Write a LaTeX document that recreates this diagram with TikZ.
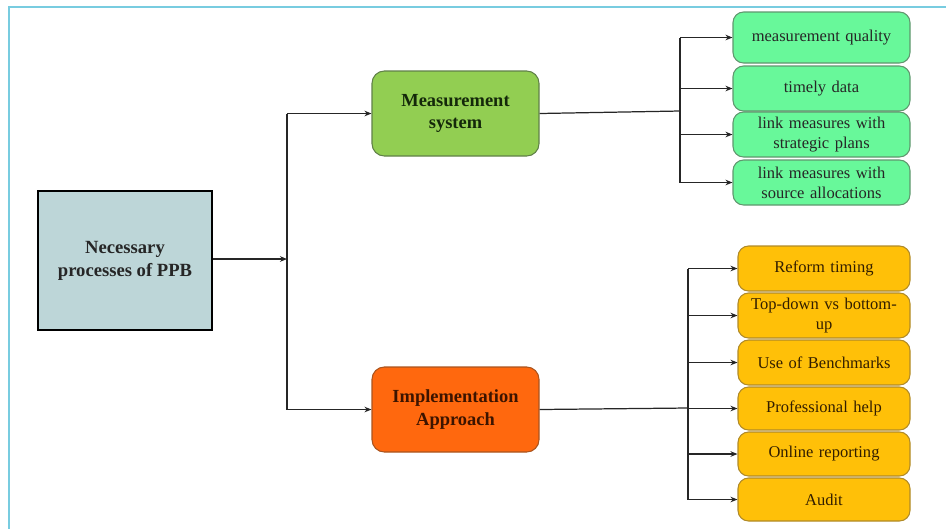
\documentclass[tikz,border=0pt]{standalone}
\usepackage{fontspec}
\setmainfont{Liberation Serif}
\usetikzlibrary{positioning,arrows.meta}

\newdimen\px \px=0.02cm

\definecolor{mainfill}{RGB}{189,214,216}
\definecolor{measfill}{RGB}{146,206,82}
\definecolor{measdraw}{RGB}{96,128,72}
\definecolor{implfill}{RGB}{255,104,14}
\definecolor{impldraw}{RGB}{170,84,30}
\definecolor{leaffill}{RGB}{104,248,154}
\definecolor{leafdraw}{RGB}{96,150,110}
\definecolor{stepfill}{RGB}{255,192,8}
\definecolor{stepdraw}{RGB}{176,138,40}
\definecolor{framecol}{RGB}{120,204,224}

\tikzset{
  mainbox/.style={draw=black,line width=1.4pt,fill=mainfill,minimum width=174\px,minimum height=139\px,
    align=center,font=\fontsize{10.6}{13}\selectfont\bfseries,text=black!85},
  headbox/.style={rounded corners=7pt,line width=0.6pt,minimum width=167\px,minimum height=85\px,
    align=center,font=\fontsize{10.5}{13}\selectfont\bfseries},
  leafbox/.style={draw=leafdraw,fill=leaffill,rounded corners=6pt,line width=0.6pt,minimum width=177\px,
    text width=160\px,align=center,inner sep=0pt,font=\fontsize{9.4}{11.5}\selectfont,text=black!85},
  stepbox/.style={draw=stepdraw,fill=stepfill,rounded corners=6pt,line width=0.6pt,minimum width=172\px,
    text width=158\px,align=center,inner sep=0pt,font=\fontsize{9.4}{11.5}\selectfont,text={rgb,255:red,50;green,30;blue,0}},
  link/.style={draw=black!85,line width=0.7pt},
  arr/.style={link,-{Stealth[length=4pt,width=3.2pt]}}
}

\begin{document}
\begin{tikzpicture}[x=0.02cm,y=-0.02cm]
\useasboundingbox (0,0) rectangle (946,529);
\draw[framecol,line width=1.2pt] (946,7) -- (9,7) -- (9,529);

% root and the two branches
\node[mainbox] (ppb) at (125,260.5) {Necessary\\processes of PPB};
\node[headbox,draw=measdraw,fill=measfill,text={rgb,255:red,20;green,40;blue,10}] (meas) at (455.5,113.5) {Measurement\\system};
\node[headbox,draw=impldraw,fill=implfill,text={rgb,255:red,60;green,20;blue,0}] (impl) at (455.5,409.5) {Implementation\\Approach};

% measurement items
\node[leafbox,minimum height=51\px] (quality) at (821.5,37.5) {measurement quality};
\node[leafbox,minimum height=45\px] (timely) at (821.5,88.5) {timely data};
\node[leafbox,minimum height=45\px] (plans) at (821.5,134.5) {link measures with\\strategic plans};
\node[leafbox,minimum height=45\px] (alloc) at (821.5,182.5) {link measures with\\source allocations};

% implementation items
\node[stepbox,minimum height=45\px] (timing) at (824,268.5) {Reform timing};
\node[stepbox,minimum height=45\px] (topdown) at (824,315.5) {Top-down vs bottom-\\up};
\node[stepbox,minimum height=45\px] (bench) at (824,362.5) {Use of Benchmarks};
\node[stepbox,minimum height=43\px] (help) at (824,408.5) {Professional help};
\node[stepbox,minimum height=44\px] (online) at (824,454) {Online reporting};
\node[stepbox,minimum height=43\px] (audit) at (824,499.5) {Audit};

% bus lines
\coordinate (rootbus) at (287,259);
\coordinate (measbus) at (680,111);
\coordinate (implbus) at (688,408);

\draw[arr] (ppb.east |- rootbus) -- (rootbus);
\draw[link] (rootbus |- meas.west) -- (rootbus |- impl.west);
\draw[arr] (rootbus |- meas.west) -- (meas.west);
\draw[arr] (rootbus |- impl.west) -- (impl.west);

\draw[link] (meas.east) -- (measbus);
\draw[link] (measbus |- quality.west) -- (measbus |- alloc.west);
\foreach \n in {quality,timely,plans,alloc}
  \draw[arr] (measbus |- \n.west) -- (\n.west);

\draw[link] (impl.east) -- (implbus);
\draw[link] (implbus |- timing.west) -- (implbus |- audit.west);
\foreach \n in {timing,topdown,bench,help,online,audit}
  \draw[arr] (implbus |- \n.west) -- (\n.west);
\end{tikzpicture}
\end{document}
